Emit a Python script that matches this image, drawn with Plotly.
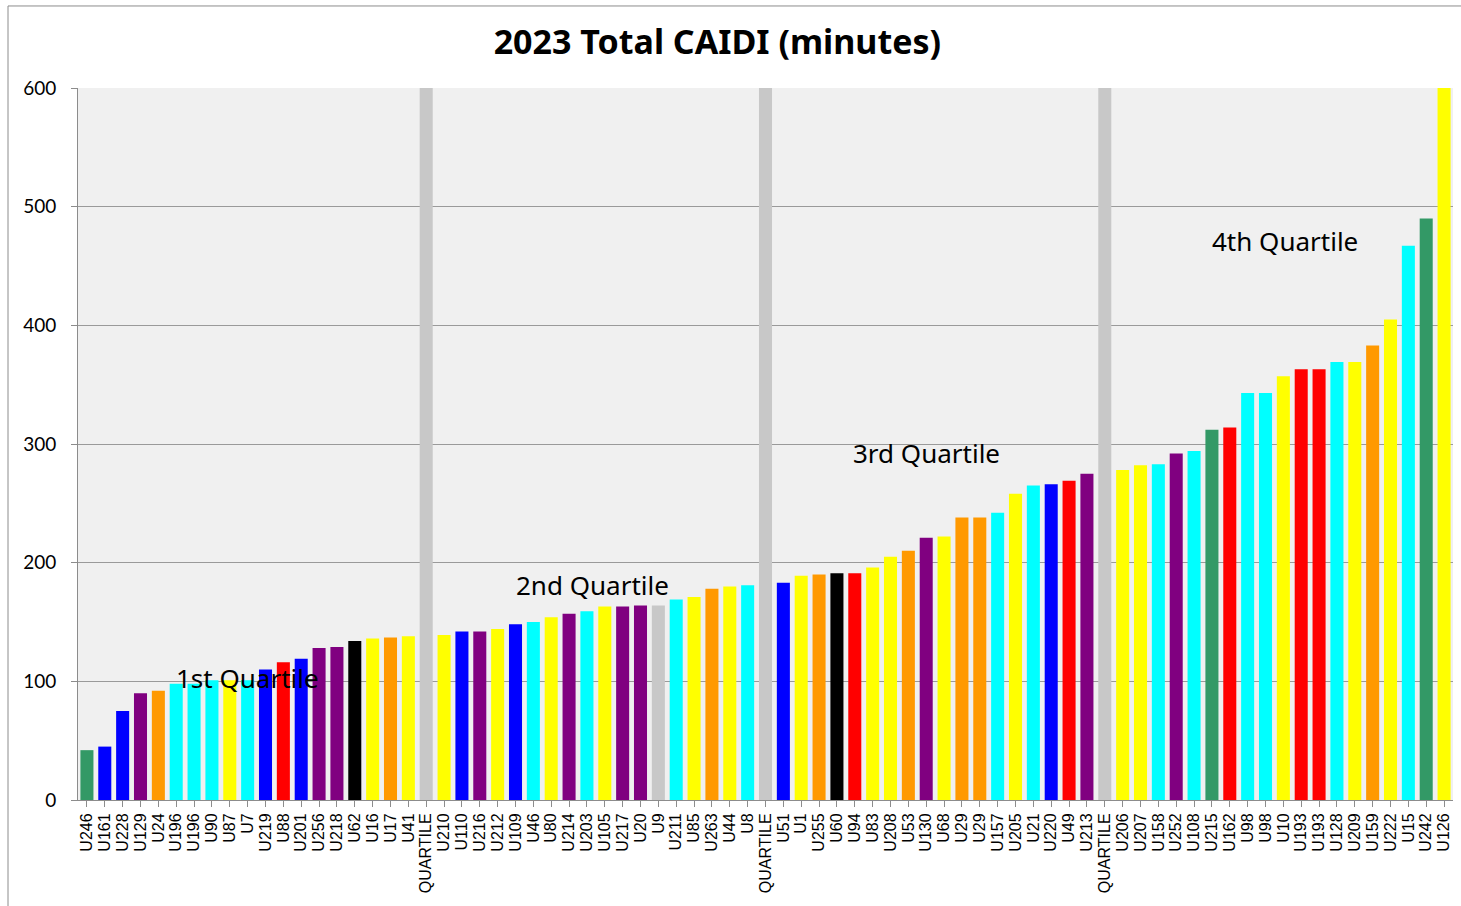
import plotly.graph_objects as go

# ---- data ----
categories = [
    "U246", "U161", "U228", "U129", "U24", "U196", "U196", "U90", "U87", "U7",
    "U219", "U88", "U201", "U256", "U218", "U62", "U16", "U17", "U41",
    "QUARTILE",
    "U210", "U110", "U216", "U212", "U109", "U46", "U80", "U214", "U203", "U105",
    "U217", "U20", "U9", "U211", "U85", "U263", "U44", "U8",
    "QUARTILE",
    "U51", "U1", "U255", "U60", "U94", "U83", "U208", "U53", "U130", "U68",
    "U29", "U29", "U157", "U205", "U21", "U220", "U49", "U213",
    "QUARTILE",
    "U206", "U207", "U158", "U252", "U108", "U215", "U162", "U98", "U98", "U10",
    "U193", "U193", "U128", "U209", "U159", "U222", "U15", "U242", "U126",
]

caidi = [
    42, 45, 75, 90, 92, 98, 98, 101, 101, 101,
    110, 116, 119, 128, 129, 134, 136, 137, 138,
    600,
    139, 142, 142, 144, 148, 150, 154, 157, 159, 163,
    163, 164, 164, 169, 171, 178, 180, 181,
    600,
    183, 189, 190, 191, 191, 196, 205, 210, 221, 222,
    238, 238, 242, 258, 265, 266, 269, 275,
    600,
    278, 282, 283, 292, 294, 312, 314, 343, 343, 357,
    363, 363, 369, 369, 383, 405, 467, 490, 600,
]

bar_colors = [
    "#339966", "#0000FF", "#0000FF", "#800080", "#FF9900", "#00FFFF", "#00FFFF", "#00FFFF", "#FFFF00", "#00FFFF",
    "#0000FF", "#FF0000", "#0000FF", "#800080", "#800080", "#000000", "#FFFF00", "#FF9900", "#FFFF00",
    "#C8C8C8",
    "#FFFF00", "#0000FF", "#800080", "#FFFF00", "#0000FF", "#00FFFF", "#FFFF00", "#800080", "#00FFFF", "#FFFF00",
    "#800080", "#800080", "#C8C8C8", "#00FFFF", "#FFFF00", "#FF9900", "#FFFF00", "#00FFFF",
    "#C8C8C8",
    "#0000FF", "#FFFF00", "#FF9900", "#000000", "#FF0000", "#FFFF00", "#FFFF00", "#FF9900", "#800080", "#FFFF00",
    "#FF9900", "#FF9900", "#00FFFF", "#FFFF00", "#00FFFF", "#0000FF", "#FF0000", "#800080",
    "#C8C8C8",
    "#FFFF00", "#FFFF00", "#00FFFF", "#800080", "#00FFFF", "#339966", "#FF0000", "#00FFFF", "#00FFFF", "#FFFF00",
    "#FF0000", "#FF0000", "#00FFFF", "#FFFF00", "#FF9900", "#FFFF00", "#00FFFF", "#339966", "#FFFF00",
]

y_ticks = [0, 100, 200, 300, 400, 500, 600]

quartile_labels = ["1st Quartile", "2nd Quartile", "3rd Quartile", "4th Quartile"]
quartile_label_x = [0.123, 0.374, 0.617, 0.878]
quartile_label_y = [103, 181, 292, 471]

# ---- figure ----
idx = list(range(len(categories)))

fig = go.Figure(
    go.Bar(
        x=idx,
        y=caidi,
        marker=dict(color=bar_colors, line=dict(width=0)),
        showlegend=False,
    )
)

for txt, xp, yv in zip(quartile_labels, quartile_label_x, quartile_label_y):
    fig.add_annotation(
        x=xp, xref="paper", xanchor="center", y=yv, yref="y", yanchor="middle",
        text=txt, showarrow=False,
        font=dict(family="Noto Sans, Open Sans, sans-serif", size=26, color="#000000"),
    )

# outer chart frame (left and top border)
fig.add_shape(type="line", xref="paper", yref="paper",
              x0=-0.0509, x1=1.2, y0=1.1152, y1=1.1152,
              line=dict(color="#8c8c8c", width=1))
fig.add_shape(type="line", xref="paper", yref="paper",
              x0=-0.0509, x1=-0.0509, y0=-0.2, y1=1.1152,
              line=dict(color="#8c8c8c", width=1))

fig.update_layout(
    width=1461,
    height=906,
    margin=dict(l=78, r=8, t=88, b=106),
    paper_bgcolor="#FFFFFF",
    plot_bgcolor="#F0F0F0",
    bargap=0.27,
    title=dict(
        text="<b>2023 Total CAIDI (minutes)</b>",
        x=0.465, xanchor="center", xref="paper",
        y=1 - 42 / 906, yref="container", yanchor="middle",
        font=dict(family="Noto Sans, Open Sans, sans-serif", size=34, color="#000000"),
    ),
    xaxis=dict(
        tickmode="array",
        tickvals=idx,
        ticktext=categories,
        tickangle=-90,
        tickfont=dict(family="Liberation Sans, Arial, sans-serif", size=16, color="#000000"),
        range=[-0.5, len(categories) - 0.5],
        showgrid=False,
        ticks="outside",
        ticklen=6,
        tickcolor="#8c8c8c",
        showline=True,
        linecolor="#8c8c8c",
        linewidth=1,
        zeroline=False,
        fixedrange=True,
    ),
    yaxis=dict(
        range=[0, 600],
        tickvals=y_ticks,
        tickfont=dict(family="Lato, Noto Sans, sans-serif", size=19, color="#000000"),
        showgrid=True,
        gridcolor="#9a9a9a",
        gridwidth=1,
        ticks="outside",
        ticklen=6,
        tickcolor="#8c8c8c",
        showline=True,
        linecolor="#8c8c8c",
        linewidth=1,
        zeroline=False,
        ticklabelstandoff=11,
    ),
)

fig.write_html(
    "out.html",
    config={"displayModeBar": False},
    post_script="document.body.style.margin='0';document.body.style.overflow='hidden';",
)
